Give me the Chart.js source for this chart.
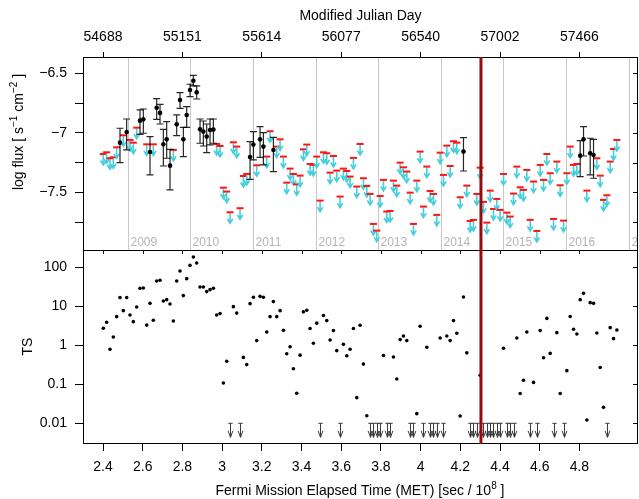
<!DOCTYPE html>
<html>
<head>
<meta charset="utf-8">
<script src="https://cdn.jsdelivr.net/npm/chart.js@4.4.1/dist/chart.umd.min.js"></script>
<style>
  body { margin: 0; background: #fff; }
  #wrap { position: relative; width: 639px; height: 499px; }
  #fluxPanel { position: absolute; left: 0; top: 0; }
  #tsPanel { position: absolute; left: 0; top: 250px; }
</style>
</head>
<body>
<div id="wrap">
  <canvas id="fluxPanel" width="639" height="250" style="width:639px;height:250px"></canvas>
  <canvas id="tsPanel" width="639" height="249" style="width:639px;height:249px"></canvas>
</div>
<script>
// time bins (MET / 1e8 s)
const binMET = [
  2.4016, 2.4184, 2.4352, 2.4520, 2.4688, 2.4856, 2.5024, 2.5192, 2.5360, 2.5528,
  2.5696, 2.5864, 2.6032, 2.6200, 2.6368, 2.6536, 2.6704, 2.6872, 2.7040, 2.7208,
  2.7376, 2.7544, 2.7712, 2.7880, 2.8048, 2.8216, 2.8384, 2.8552, 2.8720, 2.8888,
  2.9056, 2.9224, 2.9392, 2.9560, 2.9728, 2.9896, 3.0064, 3.0232, 3.0400, 3.0568,
  3.0736, 3.0904, 3.1072, 3.1240, 3.1408, 3.1576, 3.1744, 3.1912, 3.2080, 3.2248,
  3.2416, 3.2584, 3.2752, 3.2920, 3.3088, 3.3256, 3.3424, 3.3592, 3.3760, 3.3928,
  3.4096, 3.4264, 3.4432, 3.4600, 3.4768, 3.4936, 3.5104, 3.5272, 3.5440, 3.5608,
  3.5776, 3.5944, 3.6112, 3.6280, 3.6448, 3.6616, 3.6784, 3.6952, 3.7120, 3.7288,
  3.7456, 3.7624, 3.7792, 3.7960, 3.8128, 3.8296, 3.8464, 3.8632, 3.8800, 3.8968,
  3.9136, 3.9304, 3.9472, 3.9640, 3.9808, 3.9976, 4.0144, 4.0312, 4.0480, 4.0648,
  4.0816, 4.0984, 4.1152, 4.1320, 4.1488, 4.1656, 4.1824, 4.1992, 4.2160, 4.2328,
  4.2496, 4.2664, 4.2832, 4.3000, 4.3168, 4.3336, 4.3504, 4.3672, 4.3840, 4.4008,
  4.4176, 4.4344, 4.4512, 4.4680, 4.4848, 4.5016, 4.5184, 4.5352, 4.5520, 4.5688,
  4.5856, 4.6024, 4.6192, 4.6360, 4.6528, 4.6696, 4.6864, 4.7032, 4.7200, 4.7368,
  4.7536, 4.7704, 4.7872, 4.8040, 4.8208, 4.8376, 4.8544, 4.8712, 4.8880, 4.9048,
  4.9216, 4.9384, 4.9552, 4.9720, 4.9888
];

// log flux upper limits (null where the source is detected)
const ulFlux = [
  -7.178, -7.164, -7.214, -7.206, -7.122, null, -7.021, null, -7.060, -7.083,
  -6.957, null, null, -7.097, null, -7.097, null, null, null, null,
  null, -7.144, null, null, null, null, null, null, null, null,
  null, null, null, null, -7.094, -7.111, -7.461, -7.494, -7.668, -7.080,
  -7.116, -7.634, -7.363, -7.346, null, null, -7.273, null, null, -7.200,
  -6.987, null, -7.116, -7.055, -7.200, -7.419, -7.301, -7.346, -7.433, -7.360,
  -7.139, -7.099, -7.262, -7.270, -7.200, -7.570, -7.164, -7.172, -7.335, -7.195,
  -7.318, -7.536, -7.301, -7.321, -7.368, -7.211, -7.452, -7.094, -7.382, -7.447,
  -7.514, -7.766, -7.822, -7.531, -7.396, -7.662, -7.657, -7.402, -7.444, -7.251,
  -7.290, -7.326, -7.503, -7.766, -7.402, -7.158, -7.620, -7.284, -7.489, -7.514,
  -7.690, -7.167, -7.354, -7.108, -7.279, -7.071, -7.083, -7.542, null, -7.444,
  -7.741, -7.732, -7.514, -7.293, -7.581, -7.755, -7.486, -7.640, -7.556, -7.648,
  -7.346, -7.671, -7.704, -7.511, -7.284, -7.458, -7.480, -7.312, -7.732, -7.410,
  -7.825, -7.270, -7.396, -7.178, -7.340, -7.724, -7.242, -7.441, -7.738, -7.340,
  -7.116, -7.270, -7.262, null, null, -7.486, null, null, -7.214, -7.360,
  -7.564, -7.525, -7.242, -7.136, -7.060
];

// detections: bin index, log flux and its error range
const detBin = [5, 7, 11, 12, 14, 16, 17, 18, 19, 20, 22, 23, 24, 25, 26, 27,
  28, 29, 30, 31, 32, 33, 44, 45, 47, 48, 51, 108, 143, 144, 146, 147];
const detFlux = [-7.083, -6.993, -6.898, -6.887, -7.161, -6.789, -6.833, -7.097, -7.055, -7.276,
  -6.929, -6.724, -7.055, -6.850, -6.640, -6.562, -6.660, -6.971, -6.990, -7.032,
  -6.976, -6.973, -7.203, -7.099, -7.055, -7.116, -7.144, -7.158, -7.192, -7.055,
  -7.172, -7.186];
const detHigh = [-6.962, -6.884, -6.808, -6.800, -7.032, -6.713, -6.761, -6.971, -6.906, -7.139,
  -6.850, -6.662, -6.954, -6.780, -6.592, -6.517, -6.606, -6.884, -6.901, -6.926,
  -6.884, -6.884, -7.074, -6.990, -6.948, -6.999, -7.038, -7.041, -7.066, -6.948,
  -7.046, -7.055];
const detLow = [-7.251, -7.144, -7.013, -7.004, -7.354, -6.887, -6.926, -7.279, -7.214, -7.480,
  -7.024, -6.794, -7.200, -6.954, -6.696, -6.606, -6.716, -7.088, -7.111, -7.167,
  -7.102, -7.088, -7.391, -7.228, -7.206, -7.270, -7.326, -7.321, -7.368, -7.195,
  -7.354, -7.382];

// test statistic per bin (null = below 0.01, drawn as an arrow)
const tsValue = [
  2.73, 3.89, 0.79, 1.64, 5.43, 16.7, 7.74, 16.7, 6.0, 4.04,
  9.6, 29, 29.5, 3.3, 11.9, 4.4, 44.6, 46.4, 13.7, 14.8,
  11.5, 4.2, 44.6, 80.5, 18.8, 51.2, 112, 184, 129, 31.3,
  31.3, 23.8, 26.7, 29, 6.0, 6.5, 0.108, 0.39, null, 9.8,
  6.7, null, 0.49, 0.32, 11.7, 17, 1.32, 18, 17, 2.2,
  5.43, 13.2, 5.43, 7.74, 2.42, 0.61, 0.92, 0.25, 0.059, 0.56,
  7.2, 7.9, 2.7, 1.13, 3.7, null, 5.8, 4.3, 1.37, 2.38,
  0.73, null, 1.06, 0.54, 0.79, 2.7, 0.0455, 3.26, 0.33, 0.0157,
  null, null, null, null, 0.55, null, null, 0.50, 0.137, 1.40,
  1.73, 1.32, null, null, 0.0177, 3.07, null, 0.89, null, null,
  null, 1.54, null, 1.73, 1.32, 4.3, 2.03, 0.0154, 17.3, 0.64,
  null, null, null, 0.17, null, null, null, null, null, null,
  0.84, null, null, null, 1.54, 0.058, 0.127, 2.2, null, 0.112,
  null, 2.38, 0.48, 4.9, 0.62, null, 2.11, 0.058, null, 0.224,
  5.5, 2.57, 1.95, 14.8, 21.5, 0.0122, 12.4, 11.9, 2.07, 0.27,
  0.0257, null, 2.84, 1.48, 2.47
];
const tsArrowLevel = 0.01;

// axes
const metRange = [2.2992, 5.0952];
const metTicks = [2.4, 2.6, 2.8, 3.0, 3.2, 3.4, 3.6, 3.8, 4.0, 4.2, 4.4, 4.6, 4.8];
const metTickLabels = ['2.4', '2.6', '2.8', '3', '3.2', '3.4', '3.6', '3.8', '4', '4.2', '4.4', '4.6', '4.8'];
const mjdTicks = [2.4, 2.8, 3.2, 3.6, 4.0, 4.4, 4.8];
const mjdLabels = ['54688', '55151', '55614', '56077', '56540', '57002', '57466'];
const fluxRange = [-7.985, -6.363];
const fluxTicks = [-7.75, -7.5, -7.25, -7, -6.75, -6.5];
const fluxTickLabels = ['', '\u22127.5', '', '\u22127', '', '\u22126.5'];
const tsRange = [0.00313, 277.7];
const tsTicks = [0.01, 0.1, 1, 10, 100];
const tsTickLabels = ['0.01', '0.1', '1', '10', '100'];

// calendar years
const yearStartMET = [2.5246, 2.8400, 3.1553, 3.4707, 3.7869, 4.1023, 4.4176, 4.7330, 5.0492];
const yearLabels = ['2009', '2010', '2011', '2012', '2013', '2014', '2015', '2016', '2017'];

// flare time marker
const flareMET = 4.304;

const FONT = '"Liberation Sans", Arial, Helvetica, sans-serif';
Chart.defaults.font.family = FONT;
Chart.defaults.font.size = 14;
Chart.defaults.color = '#000';

function fixWidth(w) {
  return s => { s.width = w; s.paddingTop = 0; s.paddingBottom = 0; };
}
function fixHeight(h) {
  return s => { s.height = h; s.paddingLeft = 0; s.paddingRight = 0; };
}

function drawRich(ctx, parts, cx, cy, angle) {
  ctx.save();
  ctx.translate(cx, cy);
  ctx.rotate(angle);
  ctx.fillStyle = '#000';
  ctx.textBaseline = 'middle';
  let total = 0;
  parts.forEach(p => {
    ctx.font = (p.sup ? 10 : 14) + 'px ' + FONT;
    p.w = ctx.measureText(p.t).width;
    total += p.w;
  });
  let xx = -total / 2;
  parts.forEach(p => {
    ctx.font = (p.sup ? 10 : 14) + 'px ' + FONT;
    ctx.fillText(p.t, xx, p.sup ? -5 : 0);
    xx += p.w;
  });
  ctx.restore();
}

function drawFrame(chart, yTicks, topTicks) {
  const {ctx, chartArea: a, scales: {x, y}} = chart;
  ctx.save();
  ctx.strokeStyle = '#000';
  ctx.lineWidth = 1;
  ctx.beginPath();
  // inward ticks on the right side
  yTicks.forEach(v => {
    const py = Math.round(y.getPixelForValue(v)) + 0.5;
    ctx.moveTo(a.right, py); ctx.lineTo(a.right - 5, py);
  });
  if (topTicks) {
    topTicks.forEach(v => {
      const px = Math.round(x.getPixelForValue(v)) + 0.5;
      ctx.moveTo(px, a.top); ctx.lineTo(px, a.top + 4);
    });
  }
  ctx.stroke();
  ctx.strokeRect(a.left + 0.5, a.top + 0.5, a.right - a.left - 1, a.bottom - a.top);
  // flare line
  const fx = x.getPixelForValue(flareMET);
  ctx.strokeStyle = 'rgb(150,12,12)';
  ctx.lineWidth = 3;
  ctx.beginPath();
  ctx.moveTo(fx, a.top); ctx.lineTo(fx, a.bottom + 1);
  ctx.stroke();
  ctx.restore();
}

const fluxMarks = {
  id: 'fluxMarks',
  beforeDatasetsDraw(chart) {
    const {ctx, chartArea: a, scales: {x, y}} = chart;
    ctx.save();
    ctx.beginPath();
    ctx.rect(a.left, a.top, a.right - a.left, a.bottom - a.top);
    ctx.clip();
    // year lines and labels
    ctx.strokeStyle = '#c8c8c8';
    ctx.lineWidth = 1;
    ctx.fillStyle = '#b4b4b4';
    ctx.font = '12px ' + FONT;
    ctx.textBaseline = 'alphabetic';
    yearStartMET.forEach((t, k) => {
      const px = Math.round(x.getPixelForValue(t)) + 0.5;
      ctx.beginPath(); ctx.moveTo(px, a.top); ctx.lineTo(px, a.bottom); ctx.stroke();
      ctx.fillText(yearLabels[k], px + 2, a.bottom - 4);
    });
    // upper limits: red bar and cyan arrow
    chart.getDatasetMeta(1).data.forEach(pt => {
      const px = pt.x, py = pt.y;
      ctx.strokeStyle = '#45cfdb';
      ctx.lineWidth = 1.6;
      ctx.beginPath();
      ctx.moveTo(px, py + 1); ctx.lineTo(px, py + 11);
      ctx.moveTo(px - 2.7, py + 6.5); ctx.lineTo(px, py + 11); ctx.lineTo(px + 2.7, py + 6.5);
      ctx.stroke();
      ctx.fillStyle = '#ff1414';
      ctx.fillRect(px - 3.5, py - 1, 7, 2);
    });
    // error bars of detections
    ctx.strokeStyle = 'rgba(0,0,0,0.85)';
    ctx.lineWidth = 1.2;
    detBin.forEach((b, k) => {
      const px = x.getPixelForValue(binMET[b]);
      const yl = y.getPixelForValue(detLow[k]);
      const yh = y.getPixelForValue(detHigh[k]);
      ctx.beginPath();
      ctx.moveTo(px, yl); ctx.lineTo(px, yh);
      ctx.moveTo(px - 3.5, yl); ctx.lineTo(px + 3.5, yl);
      ctx.moveTo(px - 3.5, yh); ctx.lineTo(px + 3.5, yh);
      ctx.stroke();
    });
    ctx.restore();
  },
  afterDraw(chart) {
    drawFrame(chart, fluxTicks, null);
    drawRich(chart.ctx, [
      {t: 'log flux [ s'}, {t: '\u22121', sup: true}, {t: ' cm'}, {t: '\u22122', sup: true}, {t: ' ]'}
    ], 19.5, 132, -Math.PI / 2);
  }
};

const tsMarks = {
  id: 'tsMarks',
  beforeDatasetsDraw(chart) {
    const {ctx, scales: {x, y}} = chart;
    const ya = y.getPixelForValue(tsArrowLevel);
    ctx.save();
    ctx.strokeStyle = '#3c3c3c';
    ctx.lineWidth = 1;
    binMET.forEach((t, i) => {
      if (tsValue[i] !== null) return;
      const px = Math.round(x.getPixelForValue(t)) + 0.5;
      ctx.beginPath();
      ctx.moveTo(px - 2.2, ya); ctx.lineTo(px + 2.2, ya);
      ctx.moveTo(px, ya); ctx.lineTo(px, ya + 14);
      ctx.moveTo(px - 2.4, ya + 7.5); ctx.lineTo(px, ya + 14); ctx.lineTo(px + 2.4, ya + 7.5);
      ctx.stroke();
    });
    ctx.restore();
  },
  afterDraw(chart) {
    drawFrame(chart, tsTicks, metTicks);
    drawRich(chart.ctx, [
      {t: 'Fermi Mission Elapsed Time (MET) [sec / 10'}, {t: '8', sup: true}, {t: ' ]'}
    ], 360, 241, 0);
  }
};

new Chart(document.getElementById('fluxPanel'), {
  type: 'scatter',
  data: {
    datasets: [
      {
        label: 'detection',
        data: detBin.map((b, k) => ({x: binMET[b], y: detFlux[k]})),
        pointRadius: 2.3,
        pointHoverRadius: 0,
        backgroundColor: '#000',
        borderWidth: 0
      },
      {
        label: 'upper limit',
        data: binMET.map((t, i) => ({x: t, y: ulFlux[i]})).filter(p => p.y !== null),
        pointRadius: 0,
        pointHoverRadius: 0
      }
    ]
  },
  options: {
    responsive: false,
    animation: false,
    events: [],
    layout: {autoPadding: false, padding: {left: 0, right: 1, top: 0, bottom: 0}},
    plugins: {legend: {display: false}, tooltip: {enabled: false}},
    scales: {
      x: {
        type: 'linear',
        position: 'top',
        min: metRange[0],
        max: metRange[1],
        afterBuildTicks: s => { s.ticks = mjdTicks.map(v => ({value: v})); },
        afterFit: fixHeight(57),
        border: {display: false},
        grid: {drawOnChartArea: false, tickLength: 5, color: '#000'},
        ticks: {callback: (v, i) => mjdLabels[i], padding: 6, maxRotation: 0, autoSkip: false},
        title: {display: true, text: 'Modified Julian Day', padding: {top: 8}}
      },
      y: {
        min: fluxRange[0],
        max: fluxRange[1],
        afterBuildTicks: s => { s.ticks = fluxTicks.map(v => ({value: v})); },
        afterFit: fixWidth(83),
        border: {display: false},
        grid: {drawOnChartArea: false, tickLength: 8, color: '#000'},
        ticks: {callback: (v, i) => fluxTickLabels[i], padding: 8, autoSkip: false}
      }
    }
  },
  plugins: [fluxMarks]
});

new Chart(document.getElementById('tsPanel'), {
  type: 'scatter',
  data: {
    datasets: [{
      label: 'TS',
      data: binMET.map((t, i) => ({x: t, y: tsValue[i]})).filter(p => p.y !== null),
      pointRadius: 1.8,
      pointHoverRadius: 0,
      backgroundColor: '#000',
      borderWidth: 0
    }]
  },
  options: {
    responsive: false,
    animation: false,
    events: [],
    layout: {autoPadding: false, padding: {left: 0, right: 1, top: 0, bottom: 0}},
    plugins: {legend: {display: false}, tooltip: {enabled: false}},
    scales: {
      x: {
        type: 'linear',
        position: 'bottom',
        min: metRange[0],
        max: metRange[1],
        afterBuildTicks: s => { s.ticks = metTicks.map(v => ({value: v})); },
        afterFit: fixHeight(56),
        border: {display: false},
        grid: {drawOnChartArea: false, tickLength: 8, color: '#000'},
        ticks: {callback: (v, i) => metTickLabels[i], padding: 8, maxRotation: 0, autoSkip: false}
      },
      y: {
        type: 'logarithmic',
        min: tsRange[0],
        max: tsRange[1],
        afterBuildTicks: s => { s.ticks = tsTicks.map(v => ({value: v})); },
        afterFit: fixWidth(83),
        border: {display: false},
        grid: {drawOnChartArea: false, tickLength: 8, color: '#000'},
        ticks: {callback: (v, i) => tsTickLabels[i], padding: 8, autoSkip: false},
        title: {display: true, text: 'TS', padding: {top: 20}}
      }
    }
  },
  plugins: [tsMarks]
});
</script>
</body>
</html>
